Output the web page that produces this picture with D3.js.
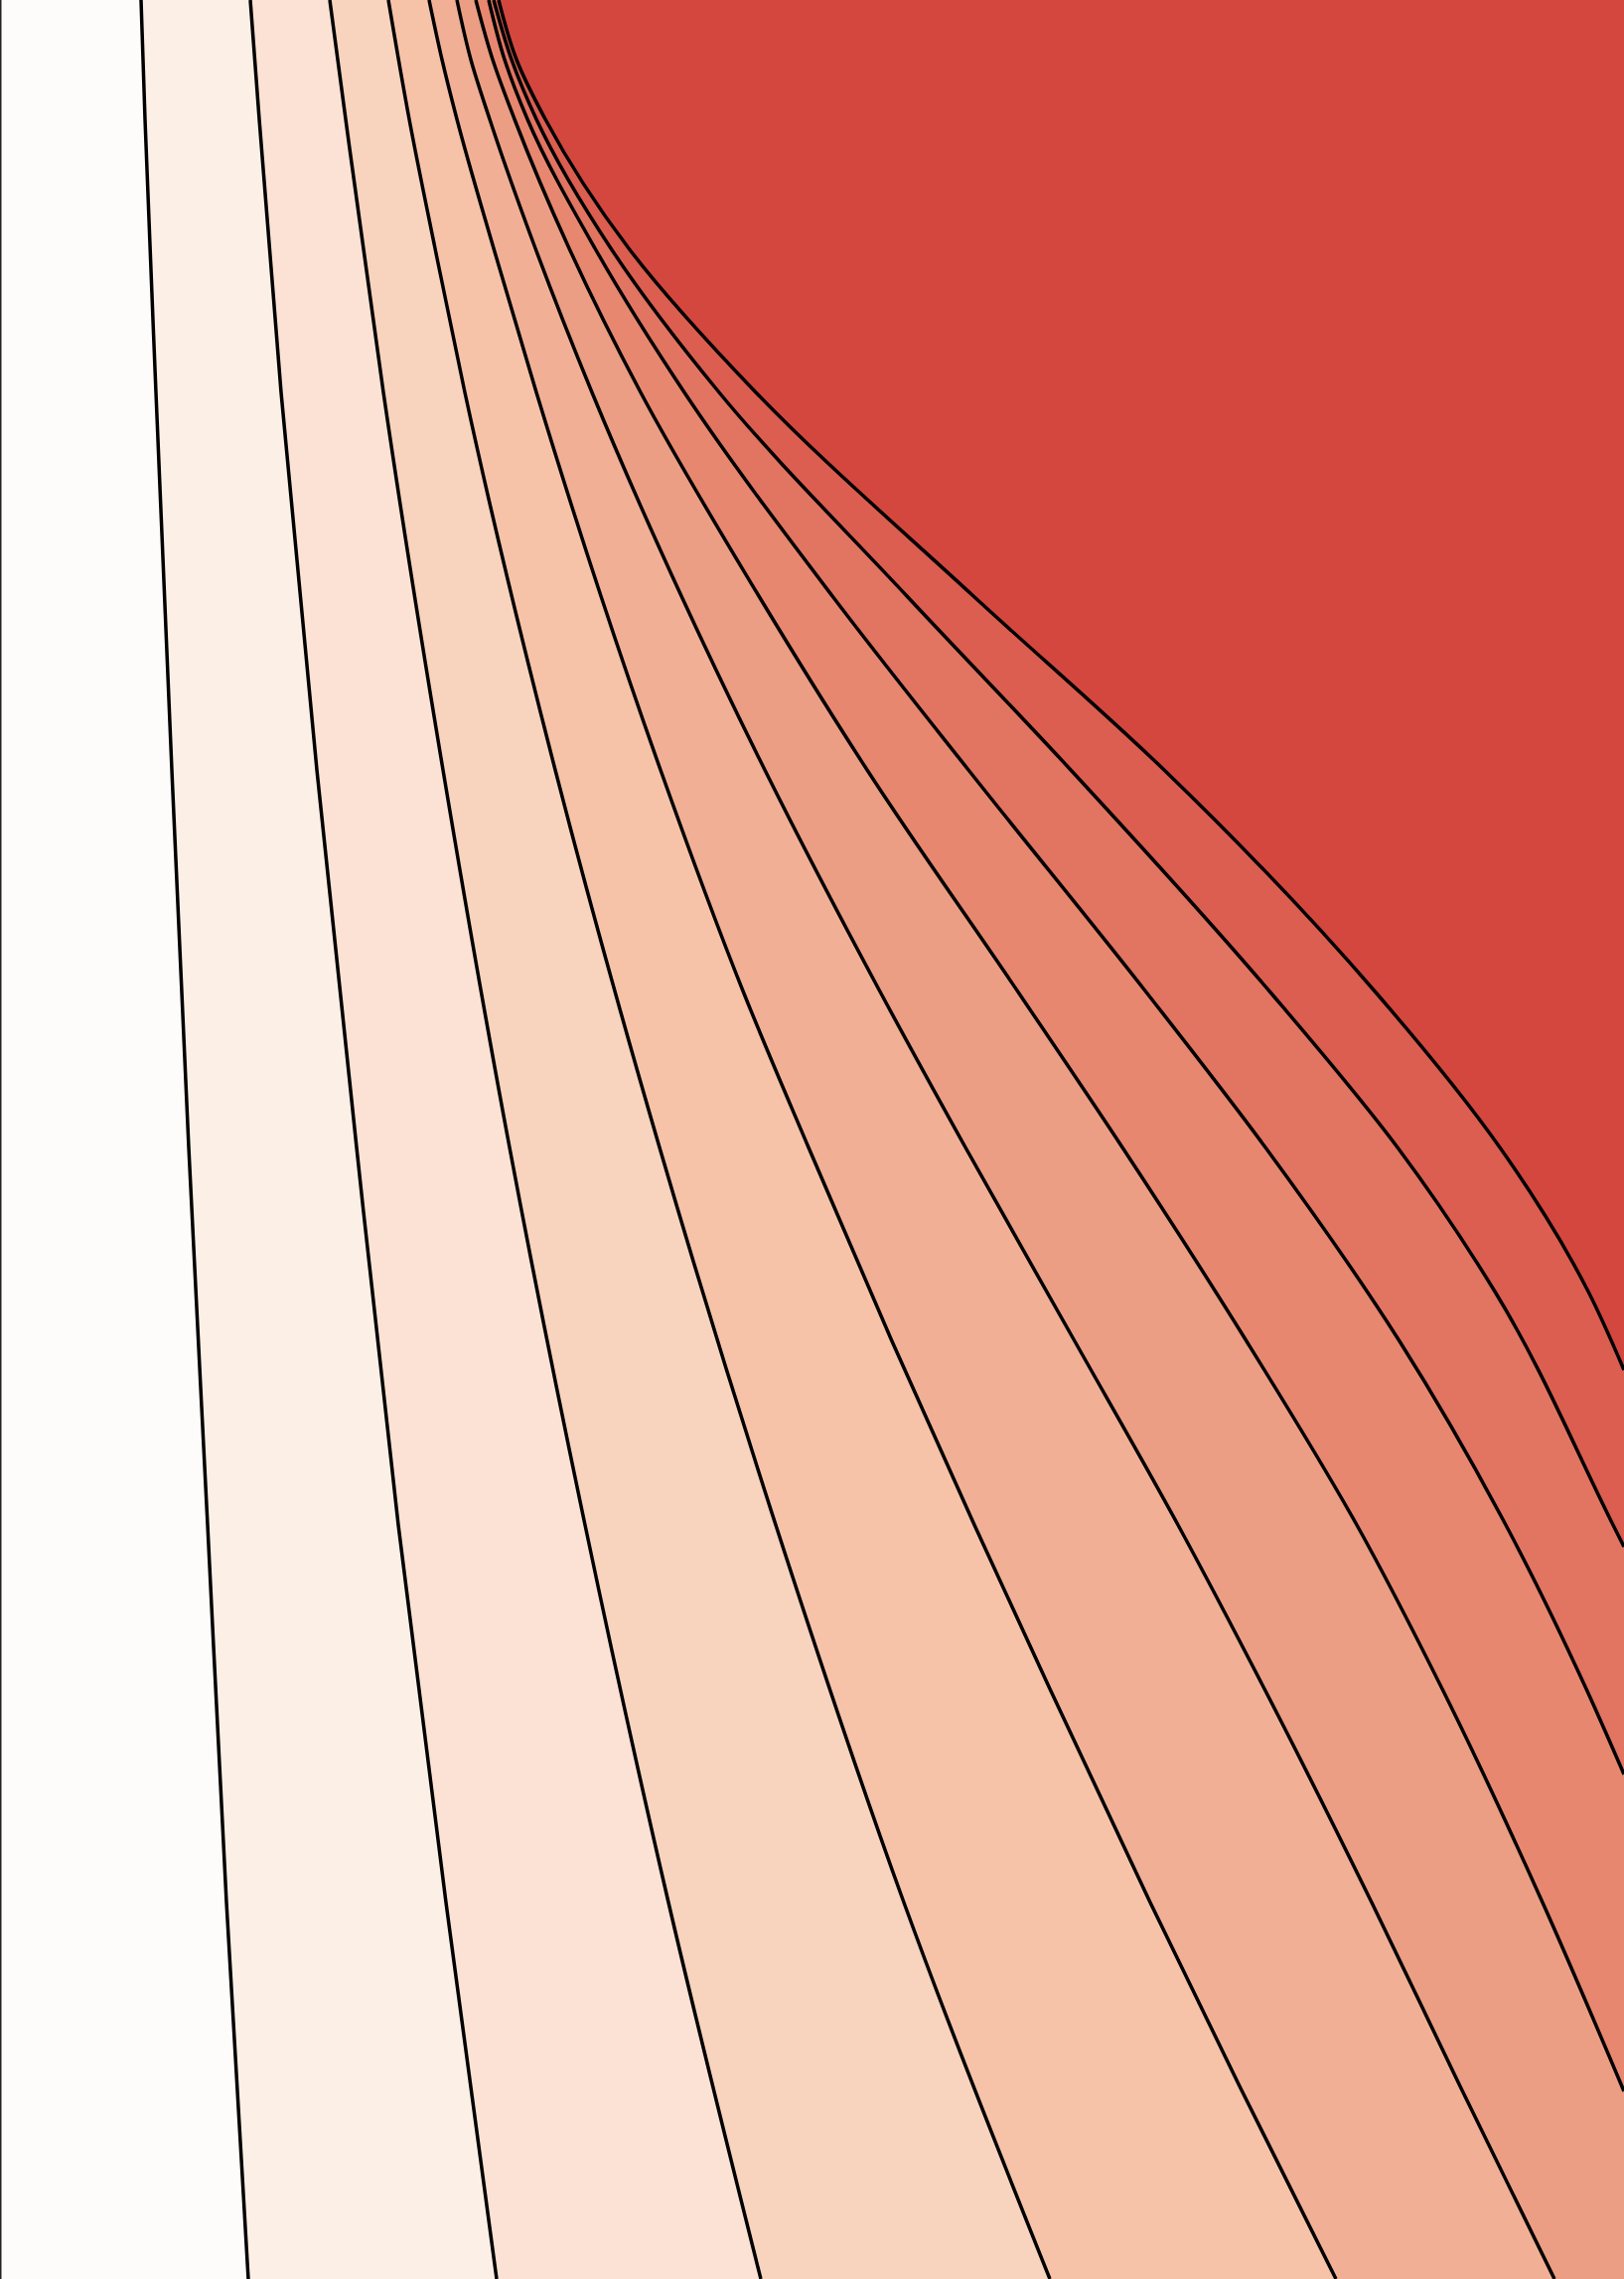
<!DOCTYPE html>
<html>
<head>
<meta charset="utf-8">
<script src="https://cdn.jsdelivr.net/npm/d3@7"></script>
<style>
	body { margin: 0; background: #fff; }
	svg { display: block; }
</style>
</head>
<body>
<script>
// Field extent (same units the contour points are read in)
const fieldWidth = 1635;
const fieldHeight = 2294;

// Contour levels, low to high
const levels = [1, 2, 3, 4, 5, 6, 7, 8, 9, 10];

// Contour lines, one per level: [x, y] points, top to where they leave
const line1 = [[142, 0], [146, 120], [157, 395], [173, 775], [190, 1155], [209, 1535], [228, 1915], [250, 2294]];
const line2 = [[252, 0], [261, 120], [283, 395], [319, 775], [359, 1155], [401, 1535], [449, 1915], [500, 2294]];
const line3 = [[332, 0], [348, 120], [386, 395], [446, 775], [513, 1155], [589, 1535], [673, 1915], [766, 2294]];
const line4 = [[391, 0], [412, 120], [438, 250], [468, 395], [559, 775], [664, 1155], [781, 1535], [910, 1915], [1057, 2294]];
const line5 = [[432, 0], [445, 60], [460, 120], [497, 250], [540, 395], [605, 600], [665, 775], [749, 1000],
	[814, 1155], [898, 1350], [981, 1535], [1057, 1700], [1158, 1915], [1248, 2100], [1345, 2294]];
const line6 = [[460, 0], [474, 60], [493, 120], [539, 250], [596, 395], [686, 600], [770, 775], [887, 1000],
	[972, 1155], [1082, 1350], [1186, 1535], [1273, 1700], [1381, 1915], [1470, 2100], [1565, 2294]];
const line7 = [[479, 0], [496, 60], [518, 120], [573, 250], [645, 395], [764, 600], [873, 775], [1026, 1000],
	[1130, 1155], [1255, 1350], [1366, 1535], [1452, 1700], [1553, 1915], [1635, 2105]];
const line8 = [[492, 0], [508, 60], [531, 120], [599, 250], [689, 395], [838, 600], [975, 775], [1155, 1000],
	[1274, 1155], [1409, 1350], [1516, 1535], [1597, 1700], [1635, 1786]];
const line9 = [[497, 0], [515, 60], [540, 120], [615, 250], [724, 395], [913, 600], [1078, 775], [1280, 1000],
	[1407, 1155], [1505, 1300], [1624, 1535], [1635, 1557]];
const line10 = [[502, 0], [520, 60], [549, 120], [633, 250], [761, 395], [980, 600], [1172, 775], [1386, 1000],
	[1510, 1155], [1599, 1300], [1635, 1379]];
const contourLines = [line1, line2, line3, line4, line5, line6, line7, line8, line9, line10];

// Fill colours, one per band (band 0 lies left of the first line)
const bandColors = ["#fefcfa", "#fcf0e6", "#fbe2d4", "#f8d3bd", "#f6c3a9", "#f1b096",
	"#eb9e84", "#e8876f", "#e27462", "#dc5e50", "#d4473f"];

const w = 1635;
const h = 2294;

const svg = d3.select("body").append("svg").attr("width", w).attr("height", h);

const xScale = d3.scaleLinear().domain([0, fieldWidth]).range([0, w]);
const yScale = d3.scaleLinear().domain([0, fieldHeight]).range([0, h]);

const color = d3.scaleOrdinal().domain([0].concat(levels)).range(bandColors);

// x is a function of y along every line, so a y-monotone curve keeps them smooth
const curve = d3.line()
	.x((d) => xScale(d[0]))
	.y((d) => yScale(d[1]))
	.curve(d3.curveMonotoneY);

svg.append("clipPath").attr("id", "plot-clip")
	.append("rect").attr("width", w).attr("height", h);

const plot = svg.append("g").attr("clip-path", "url(#plot-clip)");

// lowest band covers everything
plot.append("rect")
	.attr("width", w)
	.attr("height", h)
	.attr("fill", color(0));

// each band above a level = area right of that line, drawn in order
function regionPath(pts) {
	const end = pts[pts.length - 1];
	let d = curve(pts);
	if (end[1] >= fieldHeight) {
		d += `L${xScale(fieldWidth)},${yScale(fieldHeight)}`;
	}
	d += `L${xScale(fieldWidth)},${yScale(0)}Z`;
	return d;
}

plot.selectAll("path.band")
	.data(contourLines)
	.enter()
	.append("path")
	.attr("class", "band")
	.attr("d", (d) => regionPath(d))
	.attr("fill", (d, i) => color(levels[i]));

plot.selectAll("path.contour")
	.data(contourLines)
	.enter()
	.append("path")
	.attr("class", "contour")
	.attr("d", (d) => curve(d))
	.attr("fill", "none")
	.attr("stroke", "#000")
	.attr("stroke-width", 3.5);

// left frame edge
svg.append("line")
	.attr("x1", 0.75).attr("x2", 0.75)
	.attr("y1", 0).attr("y2", h)
	.attr("stroke", "#222")
	.attr("stroke-width", 1.5);
</script>
</body>
</html>
